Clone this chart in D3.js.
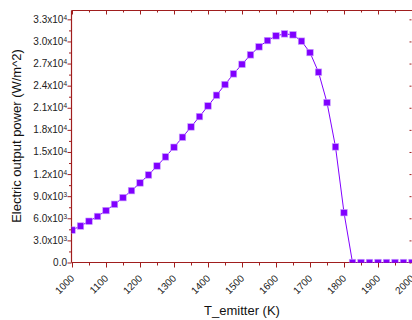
<!DOCTYPE html>
<html>
<head>
<meta charset="utf-8">
<script src="https://cdn.jsdelivr.net/npm/d3@7"></script>
<style>
  html, body { margin: 0; padding: 0; background: #fff; }
  svg { display: block; font-family: "Liberation Sans", Arial, sans-serif; }
</style>
</head>
<body>
<svg id="chart" width="412" height="320"></svg>
<script>
// emitter temperature (K) and electric output power (W/m^2)
const temps = [1000, 1025, 1050, 1075, 1100, 1125, 1150, 1175, 1200, 1225,
  1250, 1275, 1300, 1325, 1350, 1375, 1400, 1425, 1450, 1475,
  1500, 1525, 1550, 1575, 1600, 1625, 1650, 1675, 1700, 1725,
  1750, 1775, 1800, 1825, 1850, 1875, 1900, 1925, 1950, 1975, 2000];
const power = [4400, 4950, 5600, 6250, 7050, 7900, 8800, 9750, 10800, 11880,
  13100, 14330, 15640, 17000, 18400, 19800, 21250, 22700, 24150, 25600,
  26900, 28180, 29270, 30120, 30760, 31030, 30900, 30040, 28490, 25830,
  21700, 15690, 6760, 0, 0, 0, 0, 0, 0, 0, 0];

const xMajor = [1000, 1100, 1200, 1300, 1400, 1500, 1600, 1700, 1800, 1900, 2000];
const xMinor = [1050, 1150, 1250, 1350, 1450, 1550, 1650, 1750, 1850, 1950];
const yMajor = [0, 3000, 6000, 9000, 12000, 15000, 18000, 21000, 24000, 27000, 30000, 33000];
const yMinor = [1500, 4500, 7500, 10500, 13500, 16500, 19500, 22500, 25500, 28500, 31500];

const axisColor = '#a01e1e';
const markColor = '#8000ff';

const pL = 71.5, pR = 412, pT = 10.5, pB = 262.5;

const svg = d3.select('#chart');

const x = d3.scaleLinear().domain([1000, 2000]).range([72, 412]);
const y = d3.scaleLinear().domain([0, 34200]).range([pB, pT]);

// clip to plot area
svg.append('defs').append('clipPath').attr('id', 'plotclip')
  .append('rect')
  .attr('x', pL).attr('y', pT)
  .attr('width', pR - pL).attr('height', pB - pT);

function styleAxis(g) {
  g.select('.domain').remove();
  g.selectAll('line').attr('stroke', axisColor);
}

// bottom axis
svg.append('g').attr('transform', `translate(0,${pB})`)
  .call(d3.axisBottom(x).tickValues(xMajor).tickSize(5).tickFormat(''))
  .call(styleAxis);
svg.append('g').attr('transform', `translate(0,${pB})`)
  .call(d3.axisBottom(x).tickValues(xMinor).tickSize(3).tickFormat(''))
  .call(styleAxis);

// top axis (ticks inward)
svg.append('g').attr('transform', `translate(0,${pT})`)
  .call(d3.axisBottom(x).tickValues(xMajor).tickSize(4).tickFormat(''))
  .call(styleAxis);
svg.append('g').attr('transform', `translate(0,${pT})`)
  .call(d3.axisBottom(x).tickValues(xMinor).tickSize(2).tickFormat(''))
  .call(styleAxis);

// left axis
svg.append('g').attr('transform', `translate(${pL},0)`)
  .call(d3.axisLeft(y).tickValues(yMajor).tickSize(4).tickFormat(''))
  .call(styleAxis);
svg.append('g').attr('transform', `translate(${pL},0)`)
  .call(d3.axisLeft(y).tickValues(yMinor).tickSize(2.5).tickFormat(''))
  .call(styleAxis);

// right axis (ticks inward)
svg.append('g').attr('transform', `translate(${pR - 0.5},0)`)
  .call(d3.axisLeft(y).tickValues(yMajor).tickSize(2).tickFormat(''))
  .call(styleAxis);

// axis lines
svg.append('line').attr('x1', pL).attr('x2', pR).attr('y1', pB).attr('y2', pB)
  .attr('stroke', axisColor).attr('stroke-width', 1.2);
svg.append('line').attr('x1', pL).attr('x2', pR).attr('y1', pT).attr('y2', pT)
  .attr('stroke', axisColor).attr('stroke-width', 1.2);
svg.append('line').attr('x1', pL).attr('x2', pL).attr('y1', pT).attr('y2', pB)
  .attr('stroke', axisColor).attr('stroke-width', 1.2);

// y tick labels with superscript exponent
const yLab = svg.append('g').attr('font-size', 10).attr('fill', '#222');
yMajor.forEach(v => {
  const t = yLab.append('text')
    .attr('x', 67).attr('y', y(v)).attr('dy', '0.35em')
    .attr('text-anchor', 'end');
  if (v === 0) {
    t.text('0.0');
  } else {
    const e = v >= 10000 ? 4 : 3;
    t.append('tspan').text((v / Math.pow(10, e)).toFixed(1) + 'x10');
    t.append('tspan').attr('font-size', 6.5).attr('dy', '-0.45em').text(e);
  }
});

// x tick labels, rotated
svg.append('g').attr('font-size', 10).attr('fill', '#222')
  .selectAll('text').data(xMajor).join('text')
  .attr('text-anchor', 'end')
  .attr('transform', d => `translate(${x(d) + 0.5},${pB + 14}) rotate(-45)`)
  .attr('dy', '0.35em')
  .text(d => d);

// axis titles
svg.append('text')
  .attr('x', 242).attr('y', 315)
  .attr('text-anchor', 'middle').attr('font-size', 13).attr('fill', '#111')
  .text('T_emitter (K)');
svg.append('text')
  .attr('transform', 'translate(20.5,136) rotate(-90)')
  .attr('text-anchor', 'middle').attr('font-size', 13).attr('fill', '#111')
  .text('Electric output power (W/m^2)');

// series
const pts = temps.map((t, i) => [t, power[i]]);
const plot = svg.append('g').attr('clip-path', 'url(#plotclip)');

plot.append('path')
  .datum(pts)
  .attr('fill', 'none')
  .attr('stroke', markColor)
  .attr('stroke-width', 1)
  .attr('d', d3.line().x(d => x(d[0])).y(d => y(d[1])));

const s = 6.5;
plot.selectAll('rect.pt').data(pts).join('rect')
  .attr('class', 'pt')
  .attr('x', d => x(d[0]) - s / 2)
  .attr('y', d => y(d[1]) - s / 2)
  .attr('width', s).attr('height', s)
  .attr('fill', markColor)
  .attr('stroke', '#c9a0ff').attr('stroke-width', 0.6);
</script>
</body>
</html>
